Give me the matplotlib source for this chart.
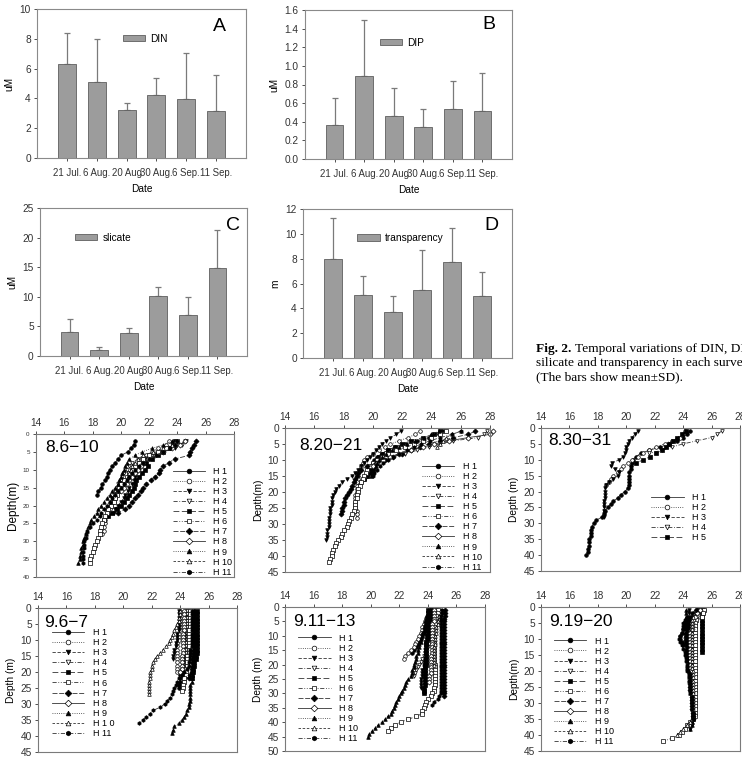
import numpy as np
import matplotlib
matplotlib.use("Agg")
import matplotlib.pyplot as plt

plt.rcParams['font.family'] = ['Liberation Sans', 'DejaVu Sans']

# ---------------- bar chart data ----------------
dates = ["21 Jul.", "6 Aug.", "20 Aug", "30 Aug.", "6 Sep.", "11 Sep."]
din_mean = [6.3, 5.1, 3.2, 4.25, 3.95, 3.15]
din_sd = [2.1, 2.9, 0.5, 1.1, 3.1, 2.4]
dip_mean = [0.36, 0.89, 0.46, 0.34, 0.54, 0.52]
dip_sd = [0.30, 0.60, 0.30, 0.20, 0.30, 0.40]
sil_mean = [4.0, 1.05, 3.9, 10.1, 6.9, 14.8]
sil_sd = [2.3, 0.45, 0.9, 1.5, 3.1, 6.4]
tra_mean = [8.0, 5.1, 3.7, 5.5, 7.7, 5.0]
tra_sd = [3.3, 1.5, 1.3, 3.2, 2.8, 1.9]

# ---------------- temperature profiles (1 m steps from start depth) ----------------
stations = ["H 1", "H 2", "H 3", "H 4", "H 5", "H 6", "H 7", "H 8", "H 9", "H 10", "H 11"]
stations_96 = ["H 1", "H 2", "H 3", "H 4", "H 5", "H 6", "H 7", "H 8", "H 9", "H 1 0", "H 11"]

# 8.6-10
p1_start = [2, 2, 2, 2, 2, 2, 2, 2, 2, 2, 2]
p1_h1 = [21.0, 20.9, 20.7, 20.5, 20.0, 19.8, 19.6, 19.4, 19.2, 19.1, 19.0, 18.9, 18.7, 18.6, 18.4, 18.3]
p1_h2 = [23.4, 23.2, 22.6, 22.2, 21.8, 21.5, 21.3, 21.0, 20.8, 20.6, 20.5, 20.3, 20.1, 20.0, 19.9, 19.7, 19.6, 19.5, 19.3, 19.2, 19.1, 19.0, 18.9, 18.9, 18.8, 18.8, 18.7]
p1_h3 = [24.6, 24.2, 23.8, 23.0, 22.4, 21.8, 21.6, 21.5, 21.3, 21.1, 21.0, 20.9, 20.8, 20.6, 20.5, 20.3, 20.2, 20.0, 19.8, 19.6, 19.5]
p1_h4 = [24.5, 24.3, 23.5, 22.9, 22.0, 21.2, 20.8, 20.6, 20.4, 20.2, 20.1, 20.0, 19.8, 19.7, 19.6, 19.5, 19.4, 19.3, 19.2]
p1_h5 = [23.8, 23.7, 23.4, 23.0, 22.6, 22.2, 21.8, 21.9, 21.7, 21.5, 21.3, 21.1, 21.0, 20.9, 20.8, 20.6, 20.4, 20.2, 20.0, 19.7, 19.4, 19.1, 18.8]
p1_h6 = [24.0, 23.8, 23.2, 22.6, 22.0, 21.6, 21.3, 21.0, 20.8, 20.6, 20.4, 20.2, 20.0, 19.9, 19.8, 19.7, 19.6, 19.5, 19.3, 19.1, 19.0, 18.9, 18.8, 18.7, 18.6, 18.5, 18.5, 18.4, 18.3, 18.2, 18.1, 18.0, 17.9, 17.8, 17.8]
p1_h7 = [25.3, 25.2, 25.0, 24.9, 24.8, 23.8, 23.4, 23.0, 22.8, 22.7, 22.4, 22.1, 21.8, 21.6, 21.4, 21.2, 21.0, 20.8, 20.6, 20.3, 19.8]
p1_h8 = [24.5, 24.2, 23.6, 23.0, 22.4, 21.9, 21.6, 21.4, 21.2, 21.0, 20.8, 20.6, 20.4, 20.2, 20.0]
p1_h9 = [23.6, 23.0, 22.2, 21.5, 21.0, 20.6, 20.4, 20.3, 20.2, 20.1, 20.0, 19.9, 19.8, 19.6, 19.4, 19.2, 19.0, 18.8, 18.6, 18.4, 18.3, 18.1, 17.9, 17.8, 17.7, 17.6, 17.5, 17.4, 17.3, 17.3, 17.2, 17.2, 17.1, 17.1, 17.0]
p1_h10 = [23.9, 23.6, 23.0, 22.3, 21.6, 21.2, 21.0, 20.8, 20.7, 20.6, 20.5, 20.4, 20.3]
p1_h11 = [24.0, 23.8, 23.5, 23.0, 22.5, 22.0, 21.6, 21.3, 21.0, 20.8, 20.6, 20.4, 20.2, 20.0, 19.8, 19.6, 19.4, 19.2, 19.0, 18.8, 18.6, 18.5, 18.3, 18.0, 17.8, 17.6, 17.5, 17.5, 17.4, 17.4, 17.4, 17.3, 17.3, 17.3, 17.3]

# 8.20-21
p2_start = [1, 1, 1, 1, 1, 1, 1, 1, 1, 1, 1]
p2_h1 = [24.8, 24.5, 23.8, 23.0, 22.2, 21.5, 21.0, 20.6, 20.3, 20.1, 20.0, 19.9, 19.8, 19.7, 19.6, 19.4, 19.2, 19.0]
p2_h2 = [23.2, 22.9, 22.4, 21.8, 21.2, 20.8, 20.4, 20.0, 19.6, 19.4, 19.3, 19.2, 19.1, 19.0, 19.0, 19.0, 18.9, 18.9, 18.9, 18.9, 18.8, 18.8, 18.8, 18.8, 18.8, 18.9, 18.9, 18.9]
p2_h3 = [21.9, 21.6, 21.2, 20.9, 20.6, 20.4, 20.2, 20.0, 19.8, 19.6, 19.4, 19.2, 19.0, 18.8, 18.6, 18.2, 17.9, 17.7, 17.5, 17.4, 17.3, 17.2, 17.2, 17.2, 17.1, 17.1, 17.1, 17.0, 17.0, 17.0, 17.0, 16.9, 16.9, 16.9, 16.8]
p2_h4 = [27.8, 27.6, 27.2, 25.5, 24.6, 23.8, 23.0, 22.2, 21.4, 20.8]
p2_h5 = [24.6, 24.2, 23.4, 22.6, 22.0, 21.5, 21.0, 20.6, 20.4, 20.3, 20.2, 20.1, 20.0, 19.8, 19.6, 19.4]
p2_h6 = [25.0, 24.6, 24.0, 23.4, 22.8, 22.2, 21.6, 21.0, 20.6, 20.3, 20.0, 19.8, 19.6, 19.5, 19.4, 19.3, 19.2, 19.1, 19.0, 19.0, 18.9, 18.9, 18.8, 18.8, 18.8, 18.7, 18.6, 18.5, 18.4, 18.3, 18.2, 18.0, 17.9, 17.8, 17.6, 17.5, 17.4, 17.3, 17.2, 17.2, 17.1, 17.0]
p2_h7 = [27.0, 26.5, 25.5, 24.6, 23.8, 23.2, 22.6, 22.0, 21.4, 20.8, 20.2, 19.6, 19.2, 19.0, 18.9, 18.8, 18.7, 18.6, 18.5, 18.4, 18.2, 18.1, 18.0, 18.0, 17.9, 17.9, 17.8]
p2_h8 = [28.2, 28.0, 26.5, 25.2, 24.2, 23.4, 22.6, 21.8, 21.2, 20.7, 20.3, 20.0]
p2_h9 = [24.5, 24.0, 23.5, 22.9, 22.3, 21.8, 21.3, 20.9, 20.6, 20.4, 20.3, 20.2, 20.1, 20.0, 19.9]
p2_h10 = [26.0, 25.4, 25.0, 24.8, 24.6, 24.4]
p2_h11 = [26.0, 25.4, 24.6, 23.9, 23.3, 22.8, 22.3, 21.8, 21.4, 21.0, 20.7, 20.5, 20.3, 20.1, 20.0]

# 8.30-31
p3_start = [1, 1, 1, 1, 1]
p3_h1 = [24.5, 24.3, 24.0, 23.6, 23.0, 22.4, 21.6, 21.0, 20.7, 20.5, 20.4, 20.3, 20.3, 20.2, 20.2, 20.2, 20.2, 20.2, 20.1, 19.9, 19.6, 19.4, 19.1, 18.9, 18.7, 18.5, 18.4, 18.3, 17.9, 17.7, 17.6, 17.5, 17.5, 17.5, 17.4, 17.4, 17.4, 17.3, 17.3, 17.2]
p3_h2 = [24.1, 24.0, 23.8, 23.2, 22.7, 22.1, 21.6, 21.2, 20.8, 20.4, 20.1, 19.8, 19.6, 19.4, 19.1, 18.9, 18.8, 18.6]
p3_h3 = [20.8, 20.6, 20.4, 20.2, 20.1, 20.0, 20.0, 19.9, 19.8, 19.5, 19.0, 18.9, 19.2, 19.5, 19.4, 19.1, 18.8, 18.6, 18.5, 18.5, 18.5, 18.5, 18.4, 18.4, 18.4, 18.4, 18.4, 18.4]
p3_h4 = [26.7, 26.4, 26.0, 25.0, 24.0, 23.2, 22.5, 21.6]
p3_h5 = [24.2, 23.9, 23.6, 23.3, 23.0, 22.8, 22.5, 22.1, 21.7, 21.2, 20.7]

# 9.6-7
p4_start = [1, 1, 1, 1, 1, 1, 1, 1, 1, 1, 1]
p4_h1 = [24.4, 24.4, 24.4, 24.4, 24.4, 24.4, 24.3, 24.4, 24.3, 24.3, 24.3, 24.3, 24.3, 24.3, 24.3, 24.2, 24.2, 24.2, 24.1, 24.1, 24.0, 24.0, 24.0, 23.9, 23.9]
p4_h2 = [24.0, 24.0, 24.0, 24.0, 24.0, 24.0, 24.0, 23.9, 23.9, 23.9, 23.8, 23.8, 23.8, 23.8, 23.8, 23.8, 23.8, 23.8, 23.8, 23.8]
p4_h3 = [23.9, 23.9, 23.9, 23.9, 23.9, 23.9, 23.9, 23.8, 23.8, 23.8, 23.7, 23.7, 23.6, 23.6, 23.5, 23.5]
p4_h4 = [24.5, 24.5, 24.5, 24.5, 24.5, 24.5, 24.5, 24.5, 24.5, 24.5, 24.4, 24.4, 24.4, 24.4, 24.4, 24.4, 24.4, 24.4, 24.3, 24.3, 24.3, 24.3, 24.3, 24.2]
p4_h5 = [25.2, 25.2, 25.2, 25.2, 25.2, 25.2, 25.2, 25.2, 25.2, 25.2, 25.2, 25.2, 25.2, 25.2, 25.1, 25.1, 25.0, 25.0, 24.9, 24.9, 24.8, 24.8]
p4_h6 = [24.7, 24.7, 24.7, 24.7, 24.7, 24.7, 24.6, 24.6, 24.6, 24.6, 24.6, 24.6, 24.6, 24.6, 24.5, 24.5, 24.5, 24.5, 24.4, 24.4, 24.4, 24.3, 24.3, 24.2, 24.2, 24.1]
p4_h7 = [25.0, 25.0, 25.0, 25.0, 25.0, 25.0, 25.0, 25.0, 25.0, 25.0, 25.0, 25.0, 25.0, 25.0, 25.0, 24.9, 24.9, 24.9, 24.8, 24.8, 24.7, 24.6]
p4_h8 = [24.3, 24.3, 24.3, 24.3, 24.3, 24.3, 24.3, 24.2, 24.2, 24.2, 24.2, 24.2, 24.2, 24.2, 24.1, 24.1, 24.1, 24.1, 24.1, 24.0]
p4_h9 = [24.9, 24.9, 24.9, 24.9, 24.9, 24.9, 24.9, 24.9, 24.9, 24.9, 24.9, 24.9, 24.9, 24.9, 24.9, 24.9, 24.8, 24.8, 24.8, 24.8, 24.8, 24.8, 24.8, 24.7, 24.7, 24.7, 24.7, 24.7, 24.7, 24.6, 24.6, 24.5, 24.4, 24.3, 24.1, 23.9, 23.6, 23.5, 23.4]
p4_h10 = [24.0, 24.0, 23.9, 23.9, 23.8, 23.7, 23.6, 23.5, 23.4, 23.3, 23.2, 23.0, 22.8, 22.6, 22.4, 22.2, 22.1, 22.0, 22.0, 21.9, 21.9, 21.9, 21.8, 21.8, 21.8, 21.8, 21.8]
p4_h11 = [24.8, 24.8, 24.8, 24.8, 24.8, 24.8, 24.8, 24.8, 24.8, 24.8, 24.8, 24.8, 24.7, 24.7, 24.7, 24.7, 24.6, 24.6, 24.5, 24.3, 24.1, 23.9, 23.8, 23.7, 23.6, 23.5, 23.4, 23.3, 23.1, 22.9, 22.6, 22.1, 21.9, 21.6, 21.4, 21.1]

# 9.11-13
p5_start = [1, 1, 1, 1, 1, 1, 1, 1, 1, 1, 1]
p5_h1 = [24.3, 24.3, 24.2, 24.2, 24.1, 24.0, 23.9, 23.8, 23.7, 23.6, 23.5, 23.4, 23.3, 23.2, 23.0, 22.9]
p5_h2 = [24.2, 24.1, 24.0, 23.9, 23.8, 23.7, 23.6, 23.6, 23.5, 23.4, 23.3, 23.2, 23.1, 23.0, 22.8, 22.6, 22.4, 22.3]
p5_h3 = [24.2, 24.2, 24.1, 24.1, 24.1, 24.0, 24.0, 24.0, 24.0, 23.9, 23.9, 23.9, 23.9, 23.9, 23.8, 23.8, 23.8, 23.8, 23.7, 23.7, 23.7, 23.6, 23.6, 23.6, 23.5, 23.5, 23.5, 23.5]
p5_h4 = [24.6, 24.6, 24.6, 24.5, 24.5, 24.5, 24.4, 24.4, 24.4, 24.3, 24.3, 24.2, 24.1, 24.0, 23.9, 23.8, 23.7, 23.6, 23.5, 23.4, 23.3, 23.2, 23.1, 23.0]
p5_h5 = [24.0, 24.0, 24.0, 24.0, 24.0, 24.0, 24.0, 24.0, 24.0, 24.0, 24.0, 23.9, 23.9, 23.9, 23.9, 23.9, 23.9, 23.9, 23.9, 23.9, 23.8, 23.8, 23.8, 23.8, 23.8, 23.8, 23.8, 23.7, 23.7, 23.7]
p5_h6 = [24.7, 24.7, 24.6, 24.6, 24.5, 24.5, 24.5, 24.4, 24.4, 24.4, 24.4, 24.4, 24.4, 24.4, 24.4, 24.4, 24.4, 24.4, 24.4, 24.5, 24.5, 24.5, 24.5, 24.5, 24.5, 24.5, 24.5, 24.4, 24.4, 24.3, 24.2, 24.0, 23.9, 23.8, 23.7, 23.6, 23.6, 23.2, 22.6, 22.1, 21.7, 21.4, 21.2]
p5_h7 = [25.2, 25.2, 25.2, 25.1, 25.1, 25.1, 25.1, 25.1, 25.1, 25.1, 25.1, 25.1, 25.1, 25.1, 25.1, 25.1, 25.1, 25.1, 25.1, 25.1, 25.1, 25.1, 25.1, 25.1, 25.1, 25.1, 25.1, 25.1, 25.1, 25.1, 25.1]
p5_h8 = [24.4, 24.4, 24.4, 24.4, 24.4, 24.3, 24.3, 24.3, 24.3, 24.3, 24.3, 24.3, 24.3, 24.3, 24.3, 24.3, 24.2, 24.2, 24.2, 24.2, 24.2, 24.2, 24.2, 24.1, 24.1, 24.1]
p5_h9 = [24.0, 24.0, 23.9, 23.9, 23.8, 23.8, 23.7, 23.7, 23.6, 23.6, 23.5, 23.5, 23.4, 23.4, 23.3, 23.3, 23.2, 23.2, 23.1, 23.0, 23.0, 22.9, 22.9, 22.8, 22.6, 22.5, 22.4, 22.3, 22.2, 22.1, 22.0, 21.9, 21.8, 21.7, 21.6, 21.5, 21.4, 21.2, 21.0, 20.8, 20.5, 20.3, 20.1, 19.9, 19.8]
p5_h10 = [24.9, 24.9, 24.8, 24.8, 24.7, 24.7, 24.6, 24.6, 24.6, 24.5, 24.5, 24.5, 24.5, 24.4, 24.4, 24.4, 24.4, 24.4, 24.4, 24.4]
p5_h11 = [25.0, 25.0, 24.9, 24.9, 24.9, 24.9, 24.9, 24.9, 24.9, 24.9, 24.9, 24.9, 24.9, 24.9, 24.9, 24.9, 24.9, 24.9, 24.9, 24.9, 24.9, 24.9, 24.9, 24.9, 24.9, 24.9, 24.9, 24.9, 24.9, 24.9, 24.8, 24.7, 24.4, 24.3]

# 9.19-20
p6_start = [1, 1, 1, 1, 1, 1, 1, 1, 1, 1, 1]
p6_h1 = [25.1, 25.0, 24.6, 24.3, 24.2, 24.1, 24.0, 23.9, 23.8, 23.8, 23.9, 24.0]
p6_h2 = [25.5, 25.4, 25.2, 24.8, 24.7, 24.7, 24.7, 24.7, 24.7, 24.7, 24.7, 24.7, 24.6, 24.6, 24.6, 24.6, 24.6, 24.6, 24.6, 24.6, 24.6, 24.6, 24.6, 24.6, 24.6, 24.6, 24.6, 24.6, 24.6, 24.6, 24.7, 24.7, 24.7, 24.7]
p6_h3 = [24.4, 24.4, 24.4, 24.3, 24.3, 24.3, 24.3, 24.3, 24.3, 24.3, 24.3, 24.3, 24.3, 24.4, 24.4, 24.4, 24.4, 24.5, 24.5, 24.5, 24.5, 24.5, 24.6, 24.6, 24.6, 24.6, 24.6, 24.6, 24.6, 24.7, 24.7, 24.7, 24.7, 24.7, 24.7, 24.6, 24.6, 24.5]
p6_h4 = [25.0, 24.9, 24.7, 24.6, 24.5, 24.5, 24.5, 24.5, 24.5, 24.5, 24.5, 24.5, 24.5, 24.5, 24.5, 24.5, 24.5, 24.5, 24.6, 24.6, 24.6, 24.6, 24.6, 24.6, 24.6, 24.6, 24.6, 24.6, 24.6, 24.6]
p6_h5 = [25.3, 25.3, 25.3, 25.3, 25.3, 25.3, 25.3, 25.3, 25.3, 25.3, 25.3, 25.3, 25.3, 25.3]
p6_h6 = [25.5, 25.4, 25.3, 24.9, 24.8, 24.8, 24.8, 24.8, 24.8, 24.8, 24.8, 24.8, 24.8, 24.8, 24.8, 24.8, 24.8, 24.8, 24.8, 24.8, 24.8, 24.8, 24.8, 24.8, 24.8, 24.8, 24.8, 24.8, 24.8, 24.8, 24.8, 24.8, 24.8, 24.8, 24.7, 24.5, 24.3, 24.1, 23.9, 23.7, 23.2, 22.6]
p6_h7 = [25.0, 24.8, 24.6, 24.5, 24.4, 24.4, 24.3, 24.3, 24.3, 24.3, 24.3, 24.3, 24.3, 24.3, 24.4, 24.4, 24.4, 24.4, 24.4, 24.4, 24.5, 24.5, 24.5, 24.5, 24.5, 24.5, 24.6, 24.6, 24.6, 24.6, 24.6, 24.6, 24.7, 24.7, 24.7]
p6_h8 = [25.2, 25.0, 24.8, 24.7, 24.6, 24.6, 24.6, 24.5, 24.5, 24.5, 24.5, 24.5, 24.5, 24.5, 24.5, 24.5, 24.5, 24.5, 24.5, 24.5]
p6_h9 = [24.2, 24.2, 24.2, 24.1, 24.1, 24.1, 24.1, 24.1, 24.1, 24.1, 24.1, 24.2, 24.2, 24.2, 24.2, 24.3, 24.3, 24.3, 24.3, 24.4, 24.4, 24.4, 24.4, 24.5, 24.5, 24.5, 24.5, 24.6, 24.6, 24.6, 24.6, 24.6, 24.7, 24.7, 24.7, 24.6, 24.6, 24.5]
p6_h10 = [24.8, 24.7, 24.7, 24.6, 24.6, 24.6, 24.6, 24.6, 24.6, 24.6, 24.6, 24.6, 24.6, 24.6, 24.6, 24.6, 24.6, 24.6, 24.6, 24.7, 24.7, 24.7, 24.7, 24.7, 24.7, 24.7, 24.7, 24.7, 24.7, 24.7, 24.7, 24.7, 24.7, 24.7, 24.6, 24.5, 24.3, 24.0, 23.8, 23.6]
p6_h11 = [24.9, 24.6, 24.3, 24.1, 24.0, 24.0, 24.0, 23.9, 23.8, 23.7, 23.8, 23.9, 24.0, 24.1, 24.1, 24.2, 24.2, 24.3, 24.3, 24.3, 24.4, 24.4, 24.4, 24.5, 24.5, 24.5, 24.5, 24.6, 24.6, 24.6, 24.6, 24.6, 24.7, 24.7, 24.7]

# ---------------- figure ----------------
W, H = 742, 760
fig = plt.figure(figsize=(W / 100, H / 100), dpi=100)


def R(l, t, r, b):
    return [l / W, 1 - b / H, (r - l) / W, (b - t) / H]


def bar_panel(rect, means, sds, label, letter, ylabel, ylim, yticks, yfmt, legxy, letxy):
    ax = fig.add_axes(rect)
    x = np.arange(len(dates))
    ax.errorbar(x, means, yerr=[np.zeros(len(means)), sds], fmt='none', ecolor='#7a7a7a',
                elinewidth=0.9, capsize=2.0, capthick=0.9, zorder=1)
    ax.bar(x, means, width=0.6, color='#9c9c9c', edgecolor='#5e5e5e', linewidth=0.6,
           label=label, zorder=2)
    ax.set_xlim(-1, len(dates))
    ax.set_ylim(*ylim)
    ax.set_yticks(yticks)
    ax.set_yticklabels([yfmt.format(v) for v in yticks])
    ax.set_xticks(x)
    ax.set_xticklabels(dates)
    ax.tick_params(axis='y', labelsize=7.3, direction='out', length=2.5, width=0.6,
                   colors='#333333', pad=2)
    ax.tick_params(axis='x', labelsize=6.9, direction='out', length=2.5, width=0.6,
                   colors='#333333', pad=5)
    for s in ax.spines.values():
        s.set_linewidth(0.8)
        s.set_color('#8a8a8a')
    ax.set_xlabel('Date', fontsize=7.3, labelpad=4)
    ax.set_ylabel(ylabel, fontsize=7.3, labelpad=4)
    ax.legend(loc='center left', bbox_to_anchor=legxy, frameon=False, fontsize=7.3,
              handlelength=2.2, handleheight=0.6, handletextpad=0.5, borderpad=0,
              borderaxespad=0)
    ax.text(letxy[0], letxy[1], letter, transform=ax.transAxes, fontsize=14,
            ha='center', va='center')
    return ax


bar_panel(R(37, 9, 246, 158), din_mean, din_sd, 'DIN', 'A', 'uM', (0, 10),
          [0, 2, 4, 6, 8, 10], '{:.0f}', (0.41, 0.80), (0.875, 0.88))
bar_panel(R(305, 10, 512, 159), dip_mean, dip_sd, 'DIP', 'B', 'uM', (0, 1.6),
          [0.0, 0.2, 0.4, 0.6, 0.8, 1.0, 1.2, 1.4, 1.6], '{:.1f}', (0.36, 0.78), (0.89, 0.90))
bar_panel(R(40, 208, 247, 356), sil_mean, sil_sd, 'slicate', 'C', 'uM', (0, 25),
          [0, 5, 10, 15, 20, 25], '{:.0f}', (0.17, 0.80), (0.93, 0.885))
bar_panel(R(303, 209, 512, 358), tra_mean, tra_sd, 'transparency', 'D', 'm', (0, 12),
          [0, 2, 4, 6, 8, 10, 12], '{:.0f}', (0.26, 0.805), (0.90, 0.89))

# caption (cut at the right edge, as in the source page)
cap_fs = 9.6
fig.text(536 / W, 1 - 352 / H, 'Fig. 2.', family='Liberation Serif', fontweight='bold',
         fontsize=cap_fs, va='baseline', ha='left')
fig.text(575 / W, 1 - 352 / H, 'Temporal variations of DIN, DIP,', family='Liberation Serif',
         fontsize=cap_fs, va='baseline', ha='left')
fig.text(536 / W, 1 - 366 / H, 'silicate and transparency in each survey',
         family='Liberation Serif', fontsize=cap_fs, va='baseline', ha='left')
fig.text(536 / W, 1 - 380 / H, '(The bars show mean\u00b1SD).', family='Liberation Serif',
         fontsize=cap_fs, va='baseline', ha='left')

styles = [
    ('-', 'o', 'k'),
    (':', 'o', 'w'),
    ((0, (4, 2)), 'v', 'k'),
    ((0, (5, 2, 1, 2)), 'v', 'w'),
    ((0, (7, 3)), 's', 'k'),
    ((0, (5, 2, 1, 2, 1, 2)), 's', 'w'),
    ((0, (6, 2)), 'D', 'k'),
    ('-', 'D', 'w'),
    (':', '^', 'k'),
    ((0, (3, 2)), '^', 'w'),
    ((0, (5, 2, 1, 2)), 'h', 'k'),
]


def prof_panel(rect, profs, starts, labels, title, ymax, ylabel, legxy, titlexy,
               ylabfs=7.3, ytickfs=7.3):
    ax = fig.add_axes(rect)
    for i, (t, s) in enumerate(zip(profs, starts)):
        ls, mk, fc = styles[i]
        d = np.arange(s, s + len(t))
        ax.plot(t, d, linestyle=ls, marker=mk, mfc=fc, mec='k', color='#333333',
                lw=0.6, ms=2.6, mew=0.5, label=labels[i], clip_on=False)
    ax.set_xlim(14, 28)
    ax.set_ylim(ymax, 0)
    ax.set_xticks([14, 16, 18, 20, 22, 24, 26, 28])
    ax.set_yticks(np.arange(0, ymax + 1, 5))
    ax.xaxis.tick_top()
    ax.tick_params(axis='x', labelsize=7.3, direction='out', length=2.5, width=0.6,
                   colors='#333333', pad=2)
    ax.tick_params(axis='y', labelsize=ytickfs, direction='out', length=2.5, width=0.6,
                   colors='#333333', pad=2)
    for s in ax.spines.values():
        s.set_linewidth(0.8)
        s.set_color('#7a7a7a')
    ax.set_ylabel(ylabel, fontsize=ylabfs, labelpad=3)
    ax.text(titlexy[0], titlexy[1], title, transform=ax.transAxes, fontsize=12.5,
            ha='left', va='center')
    ax.legend(loc='upper left', bbox_to_anchor=legxy, frameon=False, fontsize=6.5,
              handlelength=3.6, handletextpad=0.9, labelspacing=0.12, borderpad=0,
              borderaxespad=0, markerscale=1.3)
    return ax


prof_panel(R(36, 434, 234, 577),
           [p1_h1, p1_h2, p1_h3, p1_h4, p1_h5, p1_h6, p1_h7, p1_h8, p1_h9, p1_h10, p1_h11],
           p1_start, stations, '8.6\u221210', 40, 'Depth(m)', (0.69, 0.77), (0.045, 0.905),
           ylabfs=8.5, ytickfs=4.5)
prof_panel(R(285, 428, 490, 572),
           [p2_h1, p2_h2, p2_h3, p2_h4, p2_h5, p2_h6, p2_h7, p2_h8, p2_h9, p2_h10, p2_h11],
           p2_start, stations, '8.20\u221221', 45, 'Depth(m)', (0.668, 0.765), (0.07, 0.88))
prof_panel(R(541, 428, 740, 571),
           [p3_h1, p3_h2, p3_h3, p3_h4, p3_h5],
           p3_start, stations[:5], '8.30\u221231', 45, 'Depth (m)', (0.553, 0.545), (0.035, 0.91))
prof_panel(R(38, 608, 237, 752),
           [p4_h1, p4_h2, p4_h3, p4_h4, p4_h5, p4_h6, p4_h7, p4_h8, p4_h9, p4_h10, p4_h11],
           p4_start, stations_96, '9.6\u22127', 45, 'Depth (m)', (0.07, 0.86), (0.03, 0.90))
prof_panel(R(285, 607, 485, 751),
           [p5_h1, p5_h2, p5_h3, p5_h4, p5_h5, p5_h6, p5_h7, p5_h8, p5_h9, p5_h10, p5_h11],
           p5_start, stations, '9.11\u221213', 50, 'Depth (m)', (0.065, 0.815), (0.04, 0.90))
prof_panel(R(541, 607, 740, 751),
           [p6_h1, p6_h2, p6_h3, p6_h4, p6_h5, p6_h6, p6_h7, p6_h8, p6_h9, p6_h10, p6_h11],
           p6_start, stations, '9.19\u221220', 45, 'Depth(m)', (0.065, 0.795), (0.04, 0.90))

fig.savefig('out.png', dpi=100)
